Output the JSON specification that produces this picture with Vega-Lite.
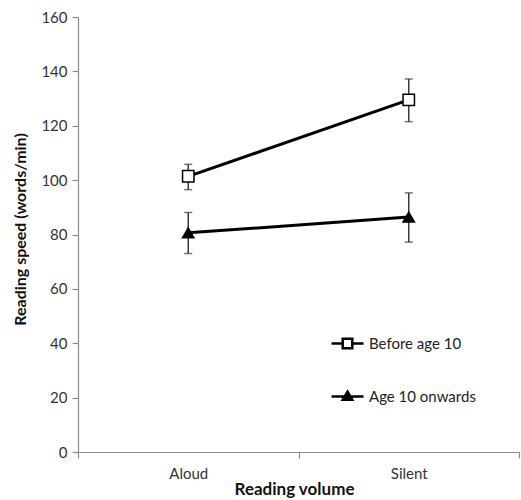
{
  "$schema": "https://vega.github.io/schema/vega-lite/v6.json",
  "width": 441,
  "height": 435,
  "autosize": {"type": "none"},
  "padding": {"left": 78, "top": 17, "right": 2, "bottom": 48},
  "background": "white",
  "config": {
    "view": {"stroke": null},
    "font": "Lato",
    "axis": {"labelFont": "Lato", "titleFont": "Lato", "grid": false}
  },
  "data": {
    "values": [
      {"volume": "Aloud", "group": "Before age 10", "speed": 101.4, "lo": 96.5, "hi": 105.8},
      {"volume": "Silent", "group": "Before age 10", "speed": 129.5, "lo": 121.5, "hi": 137.2},
      {"volume": "Aloud", "group": "Age 10 onwards", "speed": 80.6, "lo": 73.0, "hi": 88.1},
      {"volume": "Silent", "group": "Age 10 onwards", "speed": 86.4, "lo": 77.2, "hi": 95.3}
    ]
  },
  "encoding": {
    "x": {
      "field": "volume",
      "type": "nominal",
      "sort": ["Aloud", "Silent"],
      "scale": {"paddingInner": 0, "paddingOuter": 0},
      "axis": {
        "title": "Reading volume",
        "labelAngle": 0,
        "tickBand": "extent",
        "domainColor": "#8c8c8c",
        "tickColor": "#8c8c8c",
        "domainWidth": 1.2,
        "tickWidth": 1.2,
        "tickSize": 6,
        "labelPadding": 8,
        "labelFontSize": 15,
        "labelColor": "#333333",
        "titleFontSize": 17,
        "titleFontWeight": "bold",
        "titleColor": "#111111",
        "titlePadding": 0,
        "titleX": 216
      }
    }
  },
  "resolve": {"scale": {"shape": "independent", "fill": "independent"}},
  "layer": [
    {
      "mark": {"type": "rule", "color": "#3a3a3a", "strokeWidth": 1.5},
      "encoding": {
        "y": {"field": "lo", "type": "quantitative"},
        "y2": {"field": "hi"}
      }
    },
    {
      "mark": {"type": "tick", "color": "#3a3a3a", "thickness": 1.5, "size": 8, "orient": "horizontal"},
      "encoding": {"y": {"field": "lo", "type": "quantitative"}}
    },
    {
      "mark": {"type": "tick", "color": "#3a3a3a", "thickness": 1.5, "size": 8, "orient": "horizontal"},
      "encoding": {"y": {"field": "hi", "type": "quantitative"}}
    },
    {
      "mark": {"type": "line", "color": "black", "strokeWidth": 3},
      "encoding": {
        "y": {"field": "speed", "type": "quantitative"},
        "detail": {"field": "group", "type": "nominal"}
      }
    },
    {
      "mark": {"type": "point", "filled": true, "stroke": "black", "strokeWidth": 1.5, "opacity": 1, "size": 130},
      "encoding": {
        "y": {
          "field": "speed",
          "type": "quantitative",
          "scale": {"domain": [0, 160], "nice": false},
          "axis": {
            "title": "Reading speed (words/min)",
            "values": [0, 20, 40, 60, 80, 100, 120, 140, 160],
            "domainColor": "#8c8c8c",
            "tickColor": "#8c8c8c",
            "domainWidth": 1.2,
            "tickWidth": 1.2,
            "tickSize": 6,
            "labelPadding": 5,
            "labelFontSize": 15,
            "labelColor": "#333333",
            "titleFontSize": 16,
            "titleFontWeight": "bold",
            "titleColor": "#111111",
            "titlePadding": 12,
            "titleY": 212
          }
        },
        "shape": {
          "field": "group",
          "type": "nominal",
          "scale": {"domain": ["Before age 10", "Age 10 onwards"], "range": ["square", "triangle-up"]},
          "legend": null
        },
        "fill": {
          "field": "group",
          "type": "nominal",
          "scale": {"domain": ["Before age 10", "Age 10 onwards"], "range": ["white", "black"]},
          "legend": null
        }
      }
    },
    {
      "mark": {"type": "point", "filled": false, "color": "black", "strokeWidth": 2.5, "opacity": 1, "size": 0},
      "encoding": {
        "y": {"field": "speed", "type": "quantitative"},
        "shape": {
          "field": "group",
          "type": "nominal",
          "scale": {
            "domain": ["Before age 10", "Age 10 onwards"],
            "range": [
              "M-1,0H-0.3M0.3,0H1M-0.3,-0.3H0.3V0.3H-0.3Z",
              "M-1,0H1M0,-0.3L0.3,0.2H-0.3ZM-0.07,-0.18H0.07M-0.14,-0.06H0.14M-0.21,0.06H0.21M0,-0.3V0.2"
            ]
          },
          "legend": {
            "title": null,
            "orient": "none",
            "legendX": 252,
            "legendY": 309,
            "padding": 0,
            "symbolSize": 1024,
            "symbolOpacity": 1,
            "symbolStrokeWidth": 2.5,
            "rowPadding": 25,
            "labelOffset": 4,
            "labelFont": "Lato",
            "labelFontSize": 15,
            "labelColor": "#222222"
          }
        }
      }
    }
  ]
}
